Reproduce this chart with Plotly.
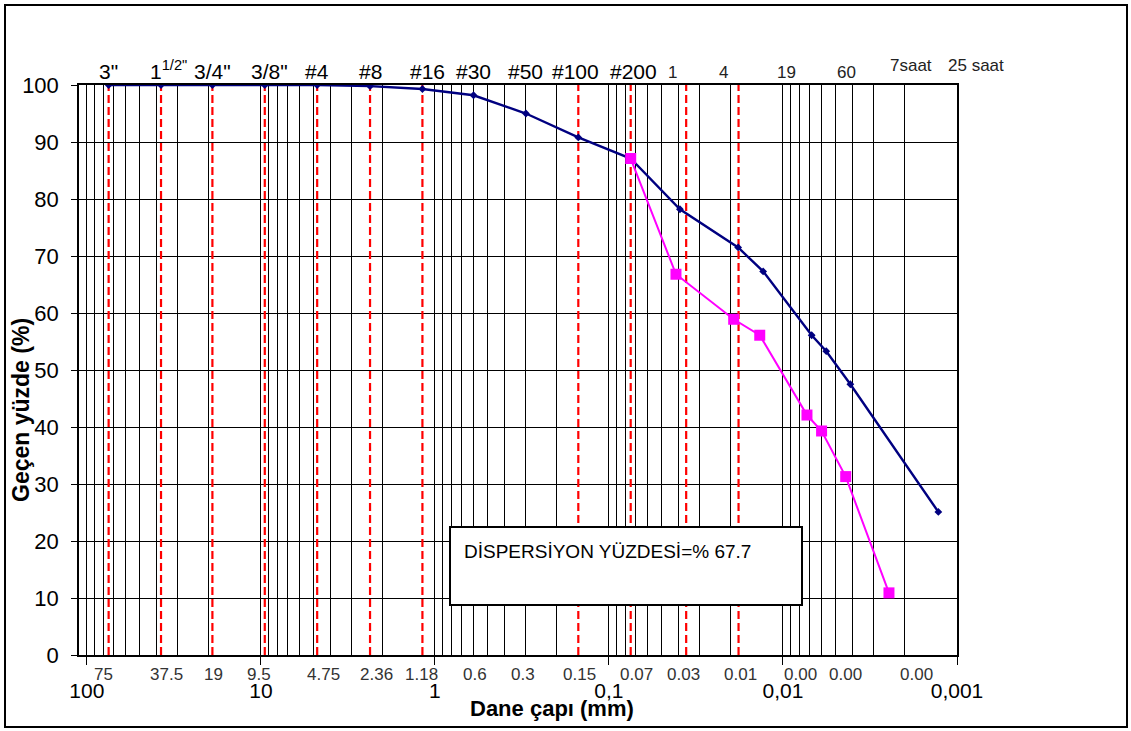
import numpy as np
import plotly.graph_objects as go

# ---------------- data ----------------
# Sieve analysis + hydrometer (blue)
diam_blue = [75, 37.5, 19, 9.5, 4.75, 2.36, 1.18, 0.6, 0.3, 0.15, 0.075,
             0.0391, 0.0181, 0.0130, 0.00684, 0.00564, 0.0041, 0.00128]
pass_blue = [100, 100, 100, 100, 100, 99.8, 99.3, 98.2, 95.0, 90.8, 87.1,
             78.2, 71.5, 67.3, 56.1, 53.3, 47.5, 25.1]

# Dispersion (double hydrometer) curve (magenta)
diam_mag = [0.075, 0.0412, 0.0192, 0.0136, 0.00728, 0.0060, 0.00436, 0.00246]
pass_mag = [87.1, 66.8, 58.9, 56.1, 42.1, 39.3, 31.3, 10.9]

# Red dashed reference lines (sieve openings / hydrometer readings)
red_lines = [75, 37.5, 19, 9.5, 4.75, 2.36, 1.18, 0.15, 0.075, 0.036, 0.018]

# Top labels: sieve names and hydrometer times
top_labels = ['3"', '1<sup>1/2"</sup>', '3/4"', '3/8"', '#4', '#8', '#16',
              '#30', '#50', '#100', '#200']
top_label_x = [75, 34.0, 19, 8.9, 4.75, 2.36, 1.10, 0.6, 0.3, 0.155, 0.072]
time_labels = ['1', '4', '19', '60']
time_label_x = [0.043, 0.0221, 0.0096, 0.00434]
hour_labels = ['7saat', '25 saat']
hour_label_x = [0.00184, 0.00078]

# Bottom secondary labels (opening sizes, mm)
bottom_labels = ['75', '37.5', '19', '9.5', '4.75', '2.36', '1.18', '0.6',
                 '0.3', '0.15', '0.07', '0.03', '0.01', '0.00', '0.00', '0.00']
bottom_label_x = [80, 35.0, 18.8, 10.3, 4.35, 2.16, 1.19, 0.59,
                  0.31, 0.148, 0.069, 0.0374, 0.0176, 0.0079, 0.0044, 0.0017]

major_vals = [100, 10, 1, 0.1, 0.01, 0.001]
major_text = ['100', '10', '1', '0,1', '0,01', '0,001']
minor_vals = [k * 10.0 ** e for e in range(-3, 2) for k in range(2, 10)]

FONT = "Arial, Liberation Sans, sans-serif"
X_MAX, X_MIN = 111.0, 0.001

fig = go.Figure()

# red dashed verticals
rx, ry = [], []
for v in red_lines:
    rx += [v, v, None]
    ry += [0, 100, None]
fig.add_trace(go.Scatter(x=rx, y=ry, mode='lines', showlegend=False,
                         line=dict(color='#FF0000', width=2.2, dash='8px,4px'),
                         hoverinfo='skip'))

fig.add_trace(go.Scatter(x=diam_blue, y=pass_blue, mode='lines+markers',
                         showlegend=False,
                         line=dict(color='#000080', width=2.4),
                         marker=dict(symbol='diamond', size=6, color='#000080')))
fig.add_trace(go.Scatter(x=diam_mag, y=pass_mag, mode='lines+markers',
                         showlegend=False,
                         line=dict(color='#FF00FF', width=2),
                         marker=dict(symbol='square', size=11, color='#FF00FF')))


def xfrac(v):
    """paper fraction of a diameter on the reversed log axis"""
    return (np.log10(X_MAX) - np.log10(v)) / (np.log10(X_MAX) - np.log10(X_MIN))


ann = []
for t, v in zip(top_labels, top_label_x):
    ann.append(dict(text=t, x=xfrac(v), xref='paper', y=1, yref='paper',
                    yanchor='bottom', xanchor='center', yshift=0, showarrow=False,
                    font=dict(family=FONT, size=21, color='black')))
for t, v in zip(time_labels, time_label_x):
    ann.append(dict(text=t, x=xfrac(v), xref='paper', y=1, yref='paper',
                    yanchor='bottom', xanchor='center', yshift=1, showarrow=False,
                    font=dict(family=FONT, size=17, color='#222')))
for t, v in zip(hour_labels, hour_label_x):
    ann.append(dict(text=t, x=xfrac(v), xref='paper', y=1, yref='paper',
                    yanchor='bottom', xanchor='center', yshift=8, showarrow=False,
                    font=dict(family=FONT, size=17, color='#222')))
for t, v in zip(bottom_labels, bottom_label_x):
    ann.append(dict(text=t, x=xfrac(v), xref='paper', y=0, yref='paper',
                    yanchor='top', xanchor='center', yshift=-8, showarrow=False,
                    font=dict(family=FONT, size=17, color='#333')))

# plot area geometry (pixels)
W, H = 1131, 731
L, R, T, B = 79, 174, 85, 76
pw, ph = W - L - R, H - T - B


def px(xp):
    return (xp - L) / pw


def py(yp):
    return 1 - (yp - T) / ph


# dispersion text box
ann.append(dict(text='DİSPERSİYON YÜZDESİ=% 67.7', x=px(462), y=py(551),
                xref='paper', yref='paper', xanchor='left', yanchor='middle',
                showarrow=False, font=dict(family=FONT, size=19, color='black')))

# axis titles
ann.append(dict(text='<b>Dane çapı (mm)</b>', x=px(552), y=py(708),
                xref='paper', yref='paper', xanchor='center', yanchor='middle',
                showarrow=False, font=dict(family=FONT, size=22, color='black')))
ann.append(dict(text='<b>Geçen yüzde (%)</b>', x=px(21), y=py(410),
                xref='paper', yref='paper', xanchor='center', yanchor='middle',
                textangle=-90, showarrow=False,
                font=dict(family=FONT, size=23, color='black')))

shapes = [
    dict(type='rect', xref='paper', yref='paper', x0=px(450), x1=px(802),
         y0=py(605), y1=py(527), fillcolor='white',
         line=dict(color='black', width=2), layer='above'),
    dict(type='rect', xref='paper', yref='paper', x0=px(5), x1=px(1127),
         y0=py(727), y1=py(5), fillcolor='rgba(0,0,0,0)',
         line=dict(color='black', width=2), layer='above'),
]

fig.update_layout(
    width=W, height=H,
    margin=dict(l=L, r=R, t=T, b=B),
    paper_bgcolor='white', plot_bgcolor='white',
    font=dict(family=FONT, color='black'),
    showlegend=False,
    annotations=ann,
    shapes=shapes,
    xaxis=dict(
        type='log', range=[np.log10(X_MAX), np.log10(X_MIN)],
        tickmode='array', tickvals=major_vals, ticktext=major_text,
        tickfont=dict(size=21, color='black'),
        ticks='outside', ticklen=8, tickcolor='black', tickwidth=1,
        ticklabelstandoff=8,
        showgrid=True, gridcolor='black', gridwidth=1,
        minor=dict(tickmode='array', tickvals=minor_vals, showgrid=True,
                   gridcolor='black', gridwidth=1, ticks=''),
        showline=True, linecolor='black', linewidth=1.5, mirror=True,
    ),
    yaxis=dict(
        range=[0, 100], tickmode='linear', tick0=0, dtick=10,
        tickfont=dict(size=22, color='black'),
        ticks='outside', ticklen=6, tickcolor='black',
        ticklabelstandoff=8,
        showgrid=True, gridcolor='black', gridwidth=1, zeroline=False,
        showline=True, linecolor='black', linewidth=1.5, mirror=True,
    ),
)

fig.write_html("out.html")
